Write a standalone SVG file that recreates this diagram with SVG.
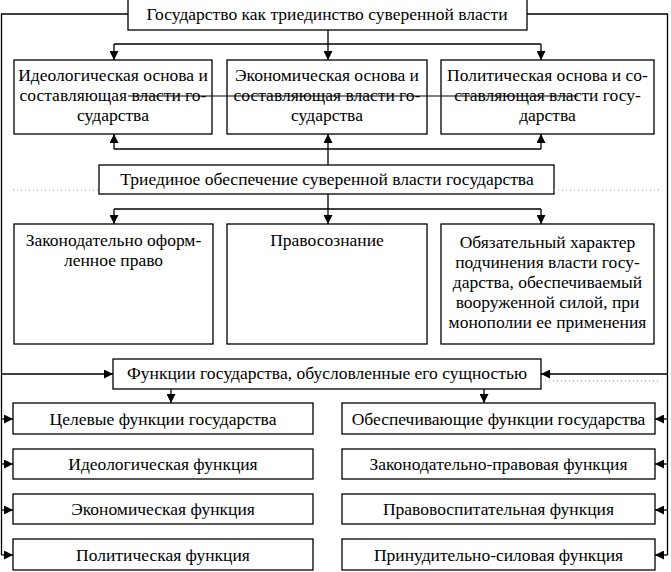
<svg xmlns="http://www.w3.org/2000/svg" width="671" height="572" viewBox="0 0 671 572">
<defs>
<marker id="ah" viewBox="0 0 10 10" refX="10" refY="5" markerWidth="10" markerHeight="9" markerUnits="userSpaceOnUse" orient="auto">
<path d="M0,0 L10,5 L0,10 Z" fill="#000"/>
</marker>
<style>
.box{fill:#fff;stroke:#000;stroke-width:1.3}
.t{font-family:"Liberation Serif","Times New Roman",serif;font-size:17.5px;fill:#000;text-anchor:middle}
.c{fill:none;stroke:#000;stroke-width:1.3}
.a{marker-end:url(#ah)}
.dot{fill:none;stroke:#999;stroke-width:1;stroke-dasharray:1 3}
</style>
</defs>
<rect width="671" height="572" fill="#fff"/>

<g id="connectors">
<path class="c" d="M128,14 H1.5 V555"/>
<path class="c" d="M527,14 H667.5 V555"/>
<path class="c" d="M328,30 V44"/>
<path class="c" d="M114,44 H541"/>
<path class="c a" d="M114,44 V60"/>
<path class="c a" d="M328,44 V60"/>
<path class="c a" d="M541,44 V60"/>
<path class="c" d="M114,149 H541"/>
<path class="c a" d="M114,149 V134"/>
<path class="c a" d="M328,149 V134"/>
<path class="c a" d="M541,149 V134"/>
<path class="c" d="M328,149 V165"/>
<path class="c" d="M328,194 V209"/>
<path class="c" d="M114,209 H541"/>
<path class="c a" d="M114,209 V224"/>
<path class="c a" d="M328,209 V224"/>
<path class="c a" d="M541,209 V224"/>
<path class="c a" d="M1.5,374 H113"/>
<path class="c a" d="M667.5,374 H541"/>
<path class="c a" d="M171,389 V403"/>
<path class="c a" d="M484,389 V403"/>
<path class="c a" d="M1.5,419 H13"/>
<path class="c a" d="M1.5,464 H13"/>
<path class="c a" d="M1.5,510 H13"/>
<path class="c a" d="M1.5,555 H13"/>
<path class="c a" d="M667.5,419 H655"/>
<path class="c a" d="M667.5,464 H655"/>
<path class="c a" d="M667.5,510 H655"/>
<path class="c a" d="M667.5,555 H655"/>
</g>

<g id="n-top"><rect class="box" x="128" y="-2" width="399" height="32"/><text class="t" x="327" y="20">Государство как триединство суверенной власти</text></g>

<g id="n-ideo"><rect class="box" x="14" y="60" width="198" height="74"/>
<text class="t" x="113" y="81">Идеологическая основа и</text>
<text class="t" x="113" y="101">составляющая власти го-</text>
<text class="t" x="113" y="121">сударства</text></g>

<g id="n-econ"><rect class="box" x="227" y="60" width="200" height="74"/>
<text class="t" x="327" y="81">Экономическая основа и</text>
<text class="t" x="327" y="101">составляющая власти го-</text>
<text class="t" x="327" y="121">сударства</text></g>

<g id="n-polit"><rect class="box" x="441" y="60" width="213" height="74"/>
<text class="t" x="547.5" y="81">Политическая основа и со-</text>
<text class="t" x="547.5" y="101">ставляющая власти госу-</text>
<text class="t" x="547.5" y="121">дарства</text></g>

<path d="M128,96 H578" stroke="#000" stroke-width="1.1" fill="none"/>

<g id="n-triad"><rect class="box" x="99" y="165" width="455" height="29"/>
<text class="t" x="327" y="185">Триединое обеспечение суверенной власти государства</text></g>
<path class="dot" d="M13,190 H99 M554,190 H662"/>

<g id="n-law"><rect class="box" x="14" y="224" width="199" height="120"/>
<text class="t" x="113.5" y="246">Законодательно оформ-</text>
<text class="t" x="113.5" y="266">ленное право</text></g>

<g id="n-legcon"><rect class="box" x="227" y="224" width="200" height="120"/>
<text class="t" x="327" y="246">Правосознание</text></g>

<g id="n-oblig"><rect class="box" x="441" y="224" width="213" height="120"/>
<text class="t" x="547.5" y="248">Обязательный характер</text>
<text class="t" x="547.5" y="268">подчинения власти госу-</text>
<text class="t" x="547.5" y="288">дарства, обеспечиваемый</text>
<text class="t" x="547.5" y="308">вооруженной силой, при</text>
<text class="t" x="547.5" y="328">монополии ее применения</text></g>

<g id="n-func"><rect class="box" x="113" y="359" width="428" height="30"/>
<text class="t" x="327" y="379">Функции государства, обусловленные его сущностью</text></g>
<path class="dot" d="M541,381 H660"/>

<g id="n-target"><rect class="box" x="13" y="403" width="300" height="31"/><text class="t" x="163" y="425">Целевые функции государства</text></g>
<g id="n-ideofn"><rect class="box" x="13" y="449" width="300" height="30"/><text class="t" x="163" y="470">Идеологическая функция</text></g>
<g id="n-econfn"><rect class="box" x="13" y="494" width="300" height="30"/><text class="t" x="163" y="515">Экономическая функция</text></g>
<g id="n-politfn"><rect class="box" x="13" y="539" width="300" height="31"/><text class="t" x="163" y="561">Политическая функция</text></g>

<g id="n-support"><rect class="box" x="342" y="403" width="313" height="31"/><text class="t" x="498.5" y="425">Обеспечивающие функции государства</text></g>
<g id="n-legal"><rect class="box" x="342" y="449" width="313" height="30"/><text class="t" x="498.5" y="470">Законодательно-правовая функция</text></g>
<g id="n-educ"><rect class="box" x="342" y="494" width="313" height="30"/><text class="t" x="498.5" y="515">Правовоспитательная функция</text></g>
<g id="n-force"><rect class="box" x="342" y="539" width="313" height="31"/><text class="t" x="498.5" y="561">Принудительно-силовая функция</text></g>
</svg>
